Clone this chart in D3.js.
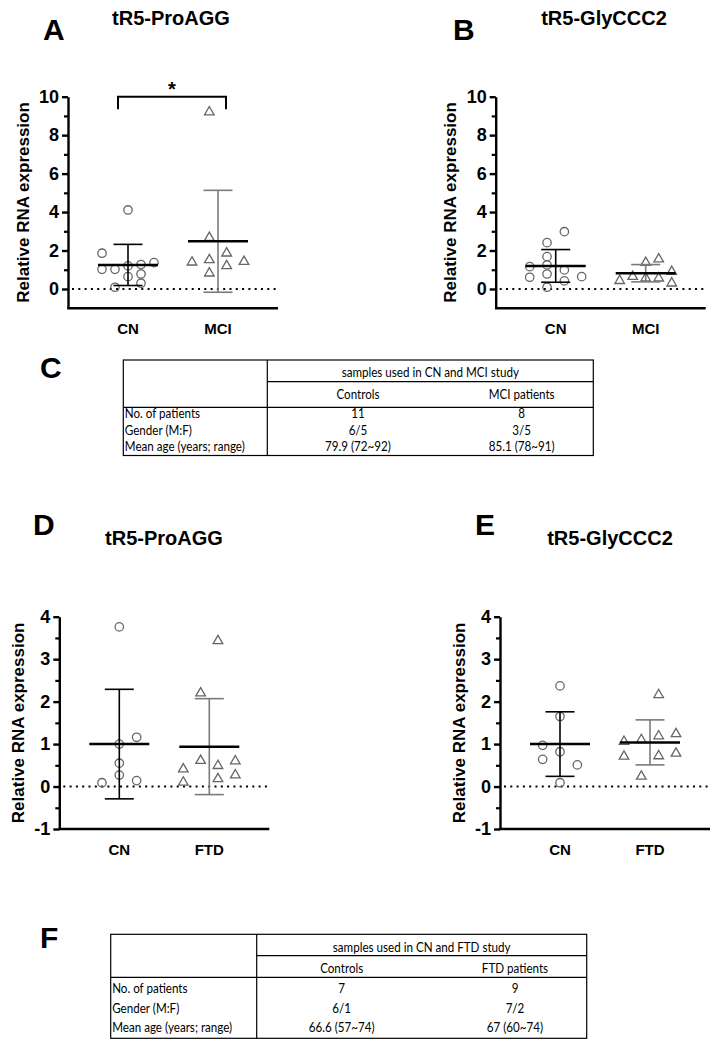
<!DOCTYPE html>
<html><head><meta charset="utf-8">
<script src="https://cdn.jsdelivr.net/npm/d3@7"></script>
<style>
body{margin:0;background:#fff}
svg{display:block}
.letter{font:bold 30px "Liberation Sans",Arial,sans-serif;fill:#000}
.title{font:bold 20px "Liberation Sans",Arial,sans-serif;fill:#000}
.tk{font:bold 18px "Liberation Sans",Arial,sans-serif;fill:#000}
.ylab{font:bold 17px "Liberation Sans",Arial,sans-serif;fill:#000}
.xlab{font:bold 15px "Liberation Sans",Arial,sans-serif;fill:#000}
.star{font:bold 20px "Liberation Sans",Arial,sans-serif;fill:#000}
.tbl{font:13.5px Lato,"Noto Sans",sans-serif;fill:#000}
</style>
</head><body>
<svg id="c" width="723" height="1050"></svg>
<script>
// ---------- DATA ----------
const catsMCI = ["CN", "MCI"];
const catsFTD = ["CN", "FTD"];
const yLabel = "Relative RNA expression";

// Panel A: tR5-ProAGG (CN vs MCI)
const aCN      = [4.11, 1.86, 1.02, 1.02, 1.20, 1.27, 1.37, 0.64, 0.78, 0.30, 0.09];
const aCNcol   = [0, -3, -3, -1.5, 0, 1.5, 3, 0, 1.5, 1.5, -1.5];
const aMCI     = [9.20, 2.67, 1.39, 1.51, 1.86, 1.20, 1.42, 0.82];
const aMCIcol  = [-1, -1, -3, -1, 1, 1, 3, -1];
const aMean    = [1.25, 2.48];
const aSD      = [1.07, 2.65];

// Panel B: tR5-GlyCCC2 (CN vs MCI)
const bCN      = [2.98, 2.41, 1.68, 1.16, 1.25, 0.61, 0.78, 0.99, 0.42, 0.64, 0.09];
const bCNcol   = [1, -1, -1, -3, -1, -3, -1, 1, 1, 3, -1];
const bMCI     = [0.43, 0.64, 1.37, 0.56, 1.55, 0.56, 0.90, 0.30];
const bMCIcol  = [-3, -1.5, 0, 0, 1.5, 1.5, 3, 3];
const bMean    = [1.20, 0.82];
const bSD      = [0.85, 0.45];

// Panel D: tR5-ProAGG (CN vs FTD)
const dCN      = [3.76, 1.16, 1.00, 0.55, 0.27, 0.09, 0.14];
const dCNcol   = [0, 2, 0, 0, 0, -2, 2];
const dFTD     = [3.43, 2.20, 0.61, 0.49, 0.60, 0.41, 0.10, 0.18, 0.27];
const dFTDcol  = [1, -1, -1, 1, 3, -3, -3, 1, 3];
const dMean    = [1.00, 0.94];
const dSD      = [1.29, 1.13];

// Panel E: tR5-GlyCCC2 (CN vs FTD)
const eCN      = [2.37, 1.65, 0.97, 0.82, 0.64, 0.51, 0.09];
const eCNcol   = [0, 0, -2, 0, -2, 2, 0];
const eFTD     = [2.16, 1.06, 1.10, 1.19, 1.24, 0.71, 0.72, 0.78, 0.24];
const eFTDcol  = [1, -3, -1, 1, 3, -3, 1, 3, -1];
const eMean    = [1.00, 1.04];
const eSD      = [0.76, 0.53];

// tick values
const ticksMajorMCI = [0, 2, 4, 6, 8, 10];
const ticksMinorMCI = [1, 3, 5, 7, 9];
const ticksMajorFTD = [-1, 0, 1, 2, 3, 4];
const ticksMinorFTD = [-0.5, 0.5, 1.5, 2.5, 3.5];

// Tables
const tblRowLabels = ["No. of patients", "Gender (M:F)", "Mean age (years; range)"];
const tblCHeader = "samples used in CN and MCI study";
const tblCGroups = ["Controls", "MCI patients"];
const tblCControls = ["11", "6/5", "79.9 (72~92)"];
const tblCPatients = ["8", "3/5", "85.1 (78~91)"];
const tblFHeader = "samples used in CN and FTD study";
const tblFGroups = ["Controls", "FTD patients"];
const tblFControls = ["7", "6/1", "66.6 (57~74)"];
const tblFPatients = ["9", "7/2", "67 (60~74)"];

// ---------- DRAWING ----------
const svg = d3.select("#c");
svg.append("rect").attr("width", 723).attr("height", 1050).attr("fill", "#fff");

const MARK = "#666";
const BAR2 = "#7a7a7a";

function drawPanel(p) {
  const g = svg.append("g");
  const y = d3.scaleLinear().domain(p.domain).range([p.yBot, p.yTop]);
  const x = d3.scalePoint().domain(p.cats).range([p.x0, p.x0 + 210]).padding(2 / 3);
  const jit = d3.scaleLinear().domain([-3, 3]).range([-26, 26]);

  g.append("text").attr("class", "letter").attr("x", p.letterX).attr("y", p.letterY).text(p.letter);
  g.append("text").attr("class", "title").attr("x", p.titleX).attr("y", p.titleY)
    .attr("text-anchor", "middle").text(p.title);

  // zero dotted line
  g.append("line").attr("x1", p.x0 + 4).attr("x2", p.x0 + 210)
    .attr("y1", y(0)).attr("y2", y(0))
    .attr("stroke", "#000").attr("stroke-width", 2).attr("stroke-dasharray", "2,4.3");

  // points
  p.groups.forEach((gr, i) => {
    const cx = x(p.cats[i]);
    const pts = g.append("g");
    const data = gr.values.map((v, j) => ({ v, c: gr.cols[j] }));
    if (gr.shape === "circle") {
      pts.selectAll("circle").data(data).join("circle")
        .attr("cx", d => cx + jit(d.c)).attr("cy", d => y(d.v)).attr("r", 4.2)
        .attr("fill", "none").attr("stroke", MARK).attr("stroke-width", 1.3);
    } else {
      const sym = d3.symbol(d3.symbolTriangle, 40)();
      pts.selectAll("path").data(data).join("path")
        .attr("d", sym)
        .attr("transform", d => `translate(${cx + jit(d.c)},${y(d.v)})`)
        .attr("fill", "none").attr("stroke", MARK).attr("stroke-width", 1.3);
    }
  });

  // mean and SD bars
  p.groups.forEach((gr, i) => {
    const cx = x(p.cats[i]);
    const col = i === 0 ? "#000" : BAR2;
    const m = p.mean[i], s = p.sd[i];
    const bg = g.append("g").attr("stroke", col).attr("stroke-width", 1.6);
    bg.append("line").attr("x1", cx).attr("x2", cx).attr("y1", y(m - s)).attr("y2", y(m + s));
    [m - s, m + s].forEach(v => bg.append("line").attr("x1", cx - 14.5).attr("x2", cx + 14.5)
      .attr("y1", y(v)).attr("y2", y(v)));
    g.append("line").attr("x1", cx - 30).attr("x2", cx + 30).attr("y1", y(m)).attr("y2", y(m))
      .attr("stroke", "#000").attr("stroke-width", 2.5);
  });

  // significance bracket
  if (p.sig) {
    const x1 = x(p.sig.from) - 10, x2 = x(p.sig.to) + 8;
    g.append("path")
      .attr("d", `M${x1},${y(p.sig.arm)}V${y(p.sig.top)}H${x2}V${y(p.sig.arm)}`)
      .attr("fill", "none").attr("stroke", "#000").attr("stroke-width", 2);
    g.append("text").attr("class", "star").attr("x", (x1 + x2) / 2).attr("y", y(p.sig.top) - 0.5)
      .attr("text-anchor", "middle").text(p.sig.label);
  }

  // y axis
  const gy = g.append("g").attr("transform", `translate(${p.x0},0)`)
    .call(d3.axisLeft(y).tickValues(p.major).tickSize(6).tickSizeOuter(0).tickPadding(3)
      .tickFormat(d => String(d)));
  gy.select(".domain").attr("stroke-width", 2.4);
  gy.selectAll(".tick line").attr("stroke-width", 2.4);
  gy.selectAll(".tick text").attr("class", "tk");
  gy.attr("font-family", null).attr("font-size", null);
  const gm = g.append("g").attr("transform", `translate(${p.x0},0)`)
    .call(d3.axisLeft(y).tickValues(p.minor).tickSize(4).tickFormat(""));
  gm.select(".domain").remove();
  gm.selectAll(".tick line").attr("stroke-width", 2.2);

  // x axis
  g.append("line").attr("x1", p.x0 - 0.7).attr("x2", p.x0 + 210)
    .attr("y1", p.yBot).attr("y2", p.yBot).attr("stroke", "#000").attr("stroke-width", 2.4);
  g.selectAll(".xlab").data(p.cats).join("text").attr("class", "xlab")
    .attr("x", d => x(d)).attr("y", p.yBot + 25.5).attr("text-anchor", "middle").text(d => d);

  // y label
  g.append("text").attr("class", "ylab")
    .attr("transform", `translate(${p.labX},${(p.yTop + p.yBot) / 2}) rotate(-90)`)
    .attr("text-anchor", "middle").attr("dy", "0.35em").text(yLabel);
}

drawPanel({
  letter: "A", letterX: 43, letterY: 40, title: "tR5-ProAGG", titleX: 171, titleY: 25,
  x0: 68, yTop: 96.7, yBot: 308.2, domain: [-1, 10], major: ticksMajorMCI, minor: ticksMinorMCI,
  cats: catsMCI, labX: 23,
  groups: [{ values: aCN, cols: aCNcol, shape: "circle" }, { values: aMCI, cols: aMCIcol, shape: "tri" }],
  mean: aMean, sd: aSD,
  sig: { from: "CN", to: "MCI", top: 10, arm: 9.35, label: "*" }
});
drawPanel({
  letter: "B", letterX: 453, letterY: 40, title: "tR5-GlyCCC2", titleX: 604, titleY: 25,
  x0: 495.7, yTop: 96.7, yBot: 308.2, domain: [-1, 10], major: ticksMajorMCI, minor: ticksMinorMCI,
  cats: catsMCI, labX: 450,
  groups: [{ values: bCN, cols: bCNcol, shape: "circle" }, { values: bMCI, cols: bMCIcol, shape: "tri" }],
  mean: bMean, sd: bSD
});
drawPanel({
  letter: "D", letterX: 33, letterY: 535, title: "tR5-ProAGG", titleX: 164, titleY: 545,
  x0: 59.3, yTop: 616.7, yBot: 829, domain: [-1, 4], major: ticksMajorFTD, minor: ticksMinorFTD,
  cats: catsFTD, labX: 18,
  groups: [{ values: dCN, cols: dCNcol, shape: "circle" }, { values: dFTD, cols: dFTDcol, shape: "tri" }],
  mean: dMean, sd: dSD
});
drawPanel({
  letter: "E", letterX: 475, letterY: 535, title: "tR5-GlyCCC2", titleX: 610, titleY: 545,
  x0: 500, yTop: 616.7, yBot: 829, domain: [-1, 4], major: ticksMajorFTD, minor: ticksMinorFTD,
  cats: catsFTD, labX: 459,
  groups: [{ values: eCN, cols: eCNcol, shape: "circle" }, { values: eFTD, cols: eFTDcol, shape: "tri" }],
  mean: eMean, sd: eSD
});

function drawTable(t) {
  const g = svg.append("g").attr("stroke", "#000").attr("stroke-width", 1.2);
  g.append("rect").attr("x", t.left).attr("y", t.top).attr("width", t.right - t.left)
    .attr("height", t.bottom - t.top).attr("fill", "none");
  g.append("line").attr("x1", t.div).attr("x2", t.div).attr("y1", t.top).attr("y2", t.bottom);
  g.append("line").attr("x1", t.div).attr("x2", t.right).attr("y1", t.line1).attr("y2", t.line1);
  g.append("line").attr("x1", t.left).attr("x2", t.right).attr("y1", t.line2).attr("y2", t.line2);
  const tg = svg.append("g");
  const txt = (x, y, s, anchor) => {
    const el = tg.append("text").attr("class", "tbl").attr("x", x).attr("y", y)
      .attr("dominant-baseline", "central").attr("text-anchor", anchor).text(s);
    const w = el.node().getComputedTextLength();
    el.attr("textLength", w * 0.86).attr("lengthAdjust", "spacingAndGlyphs");
  };
  txt((t.div + t.right) / 2, t.rowY[0], t.header, "middle");
  t.groups.forEach((s, i) => txt(t.colX[i], t.rowY[1], s, "middle"));
  tblRowLabels.forEach((s, i) => txt(t.left + 1.5, t.rowY[i + 2], s, "start"));
  t.controls.forEach((s, i) => txt(t.colX[0], t.rowY[i + 2], s, "middle"));
  t.patients.forEach((s, i) => txt(t.colX[1], t.rowY[i + 2], s, "middle"));
  svg.append("text").attr("class", "letter").attr("x", t.letterX).attr("y", t.letterY).text(t.letter);
}

drawTable({
  letter: "C", letterX: 40, letterY: 378,
  left: 123.3, right: 593.3, top: 360, bottom: 455.5, div: 267.3, line1: 381.7, line2: 407.3,
  rowY: [371.5, 394, 413, 429.7, 446.3], colX: [358, 521.7],
  header: tblCHeader, groups: tblCGroups, controls: tblCControls, patients: tblCPatients
});
drawTable({
  letter: "F", letterX: 40, letterY: 948,
  left: 110.7, right: 586.7, top: 934.3, bottom: 1038.3, div: 256.7, line1: 955.7, line2: 977.3,
  rowY: [946.5, 967.5, 988.3, 1007.5, 1026.5], colX: [341.7, 515],
  header: tblFHeader, groups: tblFGroups, controls: tblFControls, patients: tblFPatients
});
</script>
</body></html>
